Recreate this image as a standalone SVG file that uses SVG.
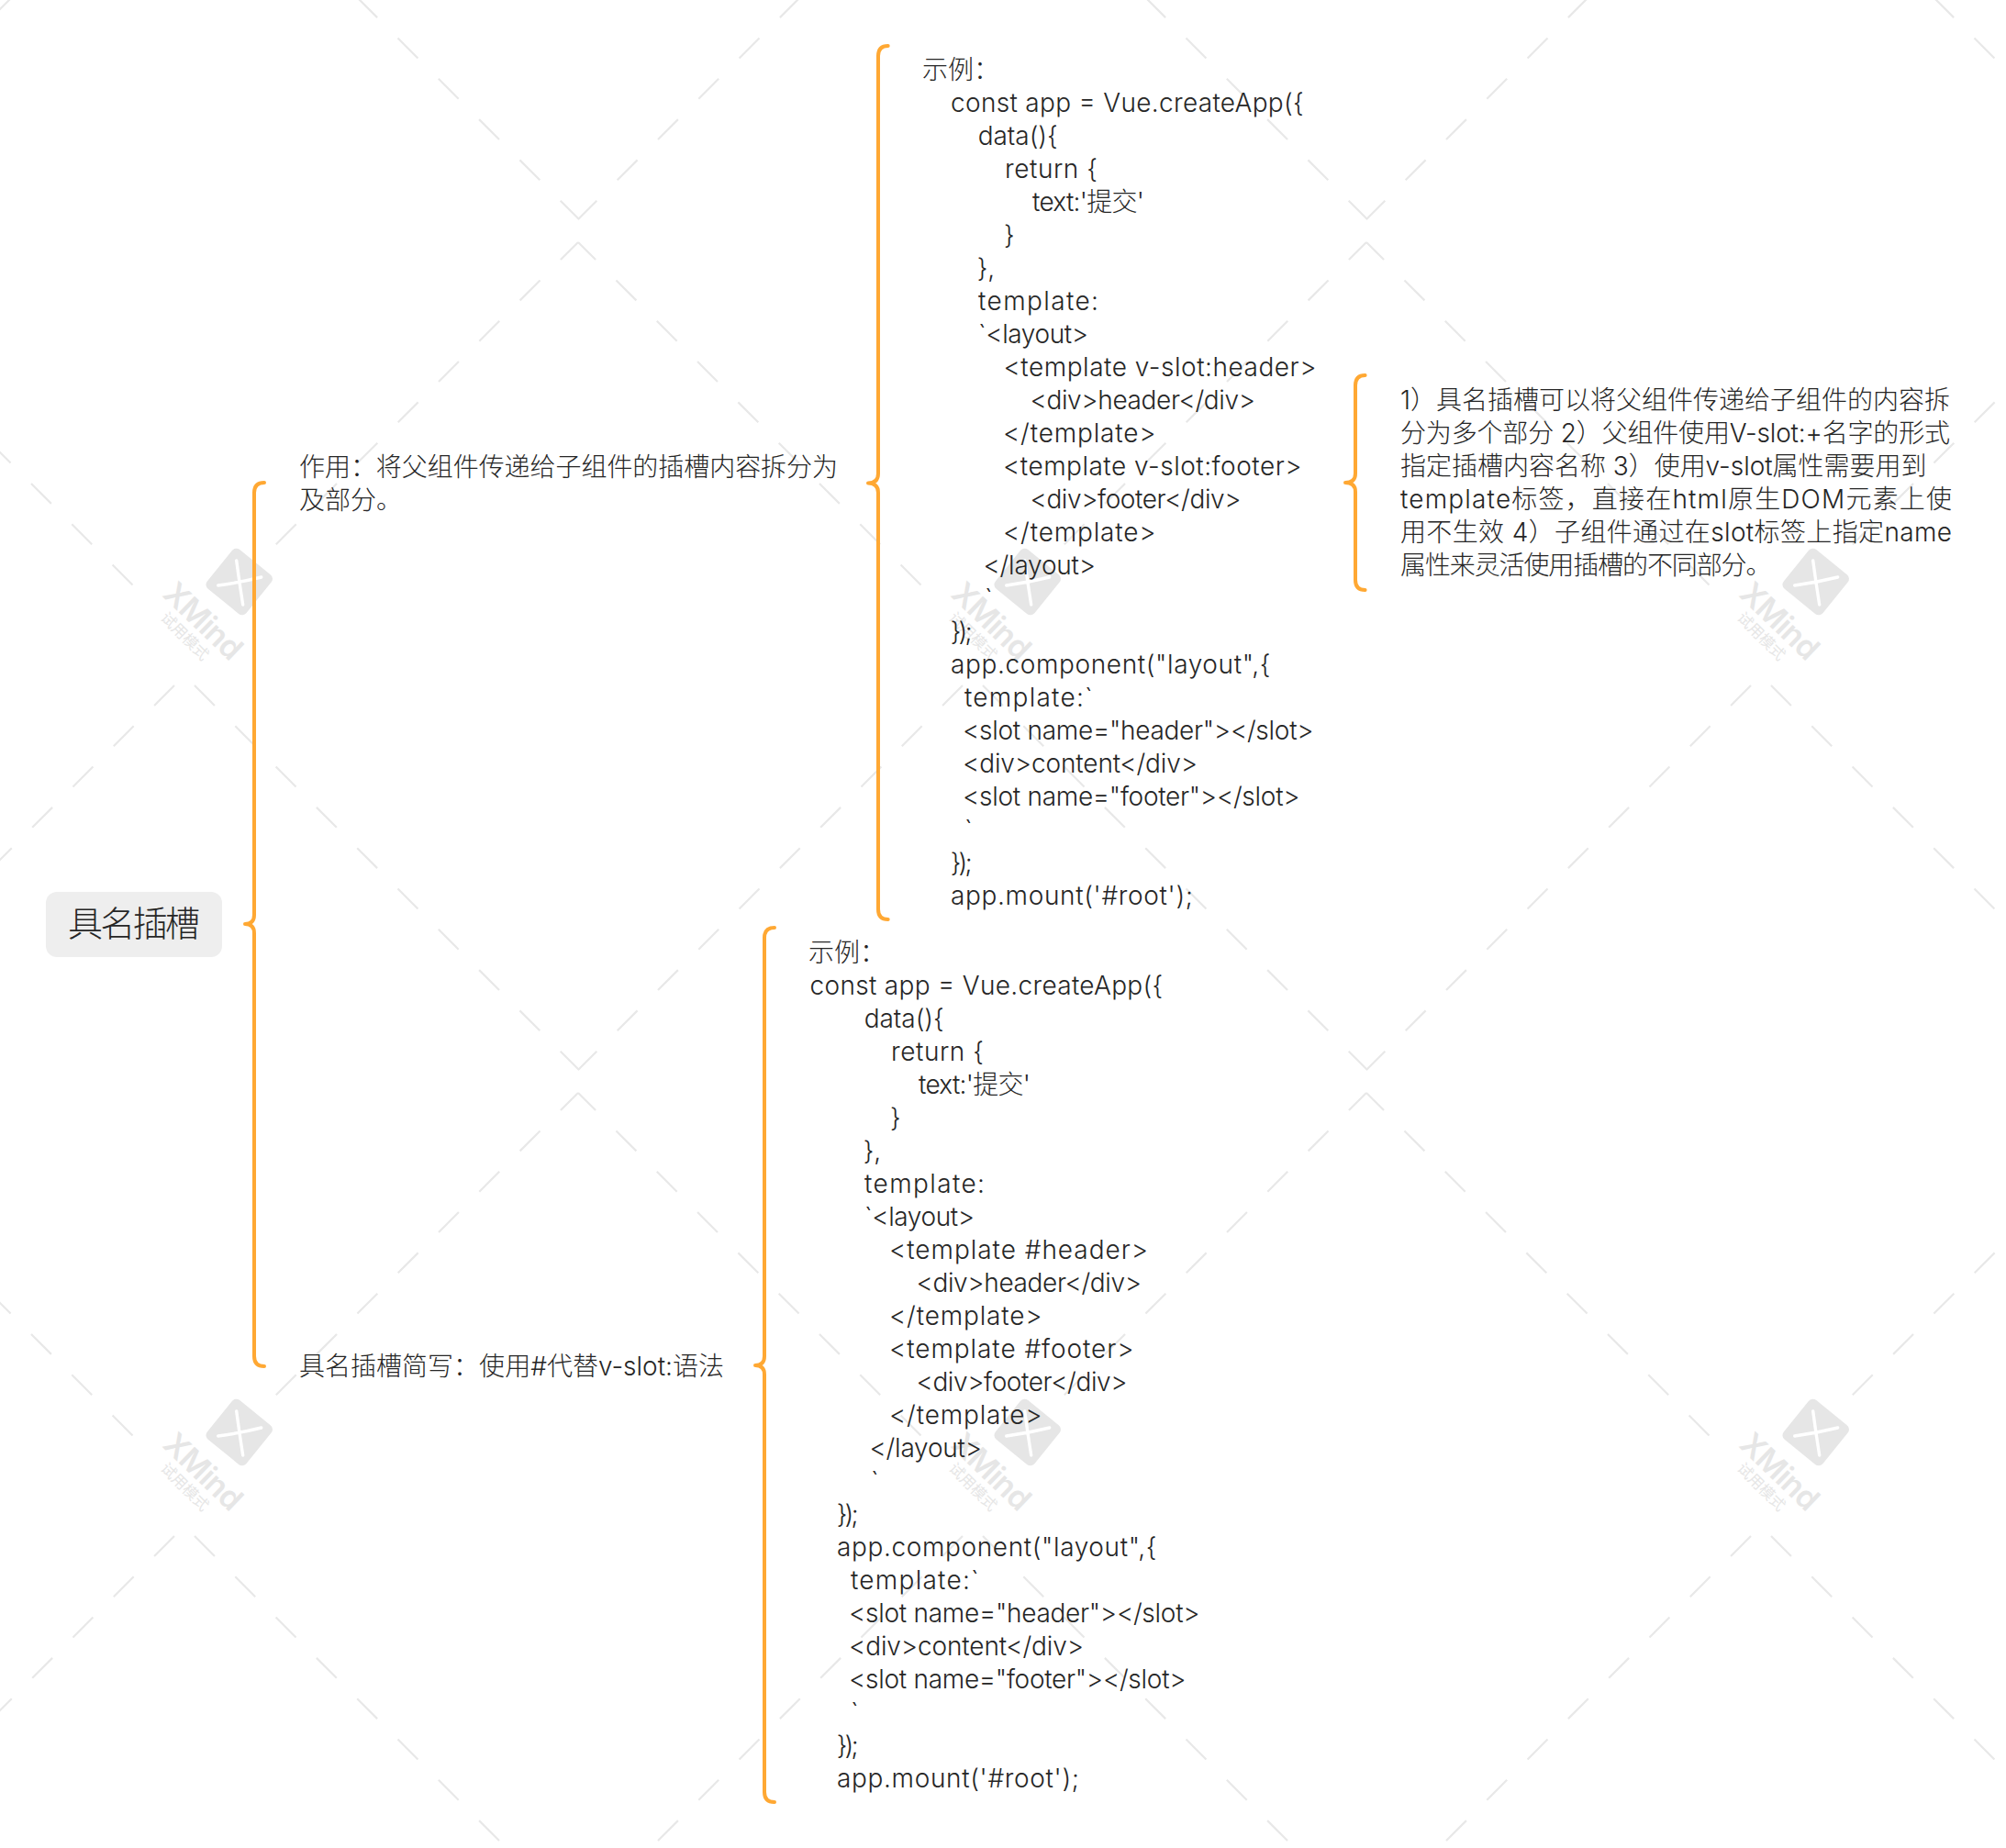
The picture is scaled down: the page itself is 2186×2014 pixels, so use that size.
<svg xmlns="http://www.w3.org/2000/svg" xmlns:xlink="http://www.w3.org/1999/xlink" width="2186" height="2014" viewBox="0 0 2186 2014">
<style>
text{font-family:"Inter","Noto Sans CJK SC",sans-serif;fill:#262626}
.t{font-size:28px;font-weight:300}
.r{font-size:38px;font-weight:300;text-anchor:middle}
.brace{fill:none;stroke:#ffa833;stroke-width:4;stroke-linecap:round;stroke-linejoin:round}
.wl{fill:none;stroke:#e8e8e8;stroke-width:2.2}
.wa{stroke-dasharray:31 31.65;stroke-dashoffset:4}
.wb{stroke-dasharray:31 31.65;stroke-dashoffset:47.1}
.wm{fill:#e6e6e6;font-weight:600;font-size:34px;text-anchor:middle}
.ws{fill:#e6e6e6;font-size:16.5px;text-anchor:middle}
</style>
<defs>
<path id="armA" class="wl wa" d="M0,0L-380,380M0,0L380,380"/>
<path id="armB" class="wl wb" d="M0,0L-430,430M0,0L430,430"/>
<g id="mark">
<rect x="-27.5" y="-27.5" width="55" height="55" rx="6" transform="rotate(39)" fill="#e6e6e6"/>
<path d="M-3,-23Q0,0 4,25M-23,4Q0,1 24,-5" fill="none" stroke="#fff" stroke-width="3.4" stroke-linecap="round"/>
<text class="wm" transform="translate(-39,42.7) rotate(44)" y="12" textLength="104">XMind</text>
<text class="ws" transform="translate(-59,59.3) rotate(45)" y="6">试用模式</text>
</g>
</defs>
<rect width="2186" height="2014" fill="#fff"/>
<g id="watermark">
<use href="#armA" x="-229" y="264"/><use href="#armA" x="630" y="264"/><use href="#armA" x="1489" y="264"/><use href="#armA" x="2348" y="264"/>
<use href="#armA" x="-229" y="1191"/><use href="#armA" x="630" y="1191"/><use href="#armA" x="1489" y="1191"/><use href="#armA" x="2348" y="1191"/>
<use href="#armB" x="201" y="-191"/><use href="#armB" x="1060" y="-191"/><use href="#armB" x="1919" y="-191"/>
<use href="#armB" x="201" y="736"/><use href="#armB" x="1060" y="736"/><use href="#armB" x="1919" y="736"/>
<use href="#armB" x="201" y="1663"/><use href="#armB" x="1060" y="1663"/><use href="#armB" x="1919" y="1663"/>
<use href="#mark" x="260.7" y="634"/><use href="#mark" x="1119.7" y="634"/><use href="#mark" x="1978.7" y="634"/>
<use href="#mark" x="260.7" y="1561"/><use href="#mark" x="1119.7" y="1561"/><use href="#mark" x="1978.7" y="1561"/>
</g>
<g id="connectors">
<path class="brace" d="M288,526Q277,526 277,537L277,997Q277,1007 267,1007Q277,1007 277,1017L277,1478Q277,1489 288,1489"/>
<path class="brace" d="M967.7,50Q957,50 957,61L957,516Q957,526.5 946,526.5Q957,526.5 957,537L957,991Q957,1002 967.7,1002"/>
<path class="brace" d="M1487.6,409Q1477,409 1477,420L1477,516Q1477,526 1466,526Q1477,526 1477,536L1477,632Q1477,643 1487.6,643"/>
<path class="brace" d="M844,1011Q833,1011 833,1022L833,1478Q833,1488 823,1488Q833,1488 833,1498L833,1953Q833,1964 844,1964"/>
</g>
<g id="root">
<rect x="50" y="972" width="192" height="71" rx="12" fill="#eee"/>
<text class="r" x="146" y="1020" textLength="144">具名插槽</text>
</g>
<g id="topic-purpose">
<text class="t" x="326" y="519" textLength="587">作用：将父组件传递给子组件的插槽内容拆分为</text>
<text class="t" x="326" y="555">及部分。</text>
</g>
<g id="topic-shorthand">
<text class="t" x="326" y="1499" textLength="463">具名插槽简写：使用#代替v-slot:语法</text>
</g>
<g id="example-vslot">
<text class="t" x="1005" y="86">示例：</text>
<text class="t" x="1036" y="121.7" textLength="384.7">const app = Vue.createApp({</text>
<text class="t" x="1065.7" y="157.7" textLength="87">data(){</text>
<text class="t" x="1095" y="193.7" textLength="101">return {</text>
<text class="t" x="1125" y="229.7" textLength="122">text:'提交'</text>
<text class="t" x="1094" y="265.7">}</text>
<text class="t" x="1064.7" y="301.7">},</text>
<text class="t" x="1066" y="337.7" textLength="131">template:</text>
<text class="t" x="1066" y="373.7" textLength="120">`&lt;layout&gt;</text>
<text class="t" x="1093.5" y="409.7" textLength="341">&lt;template v-slot:header&gt;</text>
<text class="t" x="1122.5" y="445.7" textLength="245.5">&lt;div&gt;header&lt;/div&gt;</text>
<text class="t" x="1093" y="481.7" textLength="166.5">&lt;/template&gt;</text>
<text class="t" x="1093" y="517.7" textLength="325.5">&lt;template v-slot:footer&gt;</text>
<text class="t" x="1122.5" y="553.7" textLength="230">&lt;div&gt;footer&lt;/div&gt;</text>
<text class="t" x="1093" y="589.7" textLength="166.5">&lt;/template&gt;</text>
<text class="t" x="1071.5" y="625.7" textLength="122.5">&lt;/layout&gt;</text>
<text class="t" x="1073" y="661.7">`</text>
<text class="t" x="1035.7" y="697.7" textLength="24">});</text>
<text class="t" x="1036" y="733.7" textLength="348.5">app.component("layout",{</text>
<text class="t" x="1051" y="769.7" textLength="139.7">template:`</text>
<text class="t" x="1049" y="805.7" textLength="382.5">&lt;slot name="header"&gt;&lt;/slot&gt;</text>
<text class="t" x="1049" y="841.7" textLength="256">&lt;div&gt;content&lt;/div&gt;</text>
<text class="t" x="1049" y="877.7" textLength="367.5">&lt;slot name="footer"&gt;&lt;/slot&gt;</text>
<text class="t" x="1051" y="913.7">`</text>
<text class="t" x="1035.7" y="949.7" textLength="24">});</text>
<text class="t" x="1036" y="985.7" textLength="264">app.mount('#root');</text>
</g>
<g id="note">
<text class="t" x="1526" y="446" textLength="599">1）具名插槽可以将父组件传递给子组件的内容拆</text>
<text class="t" x="1526" y="482" textLength="599">分为多个部分 2）父组件使用V-slot:+名字的形式</text>
<text class="t" x="1526" y="518" textLength="573.5">指定插槽内容名称 3）使用v-slot属性需要用到</text>
<text class="t" x="1526" y="554" textLength="601">template标签，直接在html原生DOM元素上使</text>
<text class="t" x="1526" y="590" textLength="601">用不生效 4）子组件通过在slot标签上指定name</text>
<text class="t" x="1526" y="626" textLength="404.5">属性来灵活使用插槽的不同部分。</text>
</g>
<g id="example-shorthand">
<text class="t" x="881" y="1048">示例：</text>
<text class="t" x="882.5" y="1083.5" textLength="384.7">const app = Vue.createApp({</text>
<text class="t" x="941.7" y="1119.5" textLength="87">data(){</text>
<text class="t" x="971" y="1155.5" textLength="101">return {</text>
<text class="t" x="1001" y="1191.5" textLength="122">text:'提交'</text>
<text class="t" x="970" y="1227.5">}</text>
<text class="t" x="940.7" y="1263.5">},</text>
<text class="t" x="942" y="1299.5" textLength="131">template:</text>
<text class="t" x="942" y="1335.5" textLength="120">`&lt;layout&gt;</text>
<text class="t" x="969" y="1371.5" textLength="282">&lt;template #header&gt;</text>
<text class="t" x="998.5" y="1407.5" textLength="245.5">&lt;div&gt;header&lt;/div&gt;</text>
<text class="t" x="969" y="1443.5" textLength="166.5">&lt;/template&gt;</text>
<text class="t" x="969" y="1479.5" textLength="266.5">&lt;template #footer&gt;</text>
<text class="t" x="998.5" y="1515.5" textLength="230">&lt;div&gt;footer&lt;/div&gt;</text>
<text class="t" x="969" y="1551.5" textLength="166.5">&lt;/template&gt;</text>
<text class="t" x="947.5" y="1587.5" textLength="122.5">&lt;/layout&gt;</text>
<text class="t" x="949" y="1623.5">`</text>
<text class="t" x="911.7" y="1659.5" textLength="24">});</text>
<text class="t" x="912" y="1695.5" textLength="348.5">app.component("layout",{</text>
<text class="t" x="927" y="1731.5" textLength="139.7">template:`</text>
<text class="t" x="925" y="1767.5" textLength="382.5">&lt;slot name="header"&gt;&lt;/slot&gt;</text>
<text class="t" x="925" y="1803.5" textLength="256">&lt;div&gt;content&lt;/div&gt;</text>
<text class="t" x="925" y="1839.5" textLength="367.5">&lt;slot name="footer"&gt;&lt;/slot&gt;</text>
<text class="t" x="927" y="1875.5">`</text>
<text class="t" x="911.7" y="1911.5" textLength="24">});</text>
<text class="t" x="912" y="1947.5" textLength="264">app.mount('#root');</text>
</g>
</svg>
